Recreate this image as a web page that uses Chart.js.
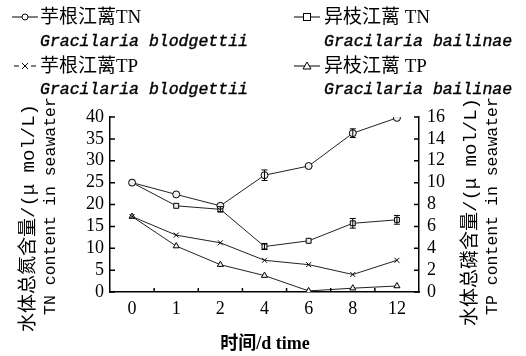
<!DOCTYPE html>
<html>
<head>
<meta charset="utf-8">
<script src="https://cdn.jsdelivr.net/npm/chart.js@4.4.0/dist/chart.umd.min.js"></script>
<style>
body { margin: 0; background: #fff; }
#wrap { position: relative; width: 526px; height: 356px; overflow: hidden; }
#chart { position: absolute; left: 0; top: 0; }
.t { position: absolute; white-space: nowrap; color: #000; line-height: 1; }
.cn { font-family: "Liberation Serif", "Noto Sans CJK SC"; font-size: 19px; }
.it { font-family: "Liberation Mono"; font-style: italic; font-size: 16.5px; -webkit-text-stroke: 0.4px #000; }
.vt { transform: translate(-50%, -50%) rotate(-90deg); }
.mono { font-family: "Liberation Mono", "Noto Sans CJK SC"; font-size: 16px; }
svg.sym { position: absolute; }
</style>
</head>
<body>
<div id="wrap">
<canvas id="chart" width="526" height="356"></canvas>

<!-- legend -->
<svg class="sym" style="left:11px;top:9px" width="28" height="16"><line x1="1" y1="8" x2="27" y2="8" stroke="#000"/><circle cx="14" cy="8" r="3" fill="#fff" stroke="#000"/></svg>
<div class="t cn" style="left:40px;top:7px">芋根江蓠TN</div>
<div class="t it" style="left:40px;top:34px">Gracilaria blodgettii</div>
<svg class="sym" style="left:11px;top:58px" width="28" height="16"><line x1="3" y1="8" x2="8" y2="8" stroke="#000"/><line x1="20" y1="8" x2="25" y2="8" stroke="#000"/><path d="M11 5 L17 11 M17 5 L11 11" stroke="#000"/></svg>
<div class="t cn" style="left:40px;top:56px">芋根江蓠TP</div>
<div class="t it" style="left:40px;top:82px">Gracilaria blodgettii</div>

<svg class="sym" style="left:293px;top:9px" width="28" height="16"><line x1="1" y1="8" x2="27" y2="8" stroke="#000"/><rect x="10.5" y="4.5" width="7" height="7" fill="#fff" stroke="#000"/></svg>
<div class="t cn" style="left:324px;top:7px">异枝江蓠 TN</div>
<div class="t it" style="left:324px;top:34px">Gracilaria bailinae</div>
<svg class="sym" style="left:293px;top:58px" width="28" height="16"><line x1="1" y1="8" x2="27" y2="8" stroke="#000"/><path d="M14 4 L18 11 L10 11 Z" fill="#fff" stroke="#000"/></svg>
<div class="t cn" style="left:324px;top:56px">异枝江蓠 TP</div>
<div class="t it" style="left:324px;top:82px">Gracilaria bailinae</div>

<!-- axis titles -->
<div class="t mono vt" style="left:29px;top:218px;font-size:19px">水体总氮含量/(μ mol/L)</div>
<div class="t mono vt" style="left:51px;top:206px;font-size:16.5px">TN content in seawater</div>
<div class="t mono vt" style="left:471px;top:212px;font-size:19px">水体总磷含量/(μ mol/L)</div>
<div class="t mono vt" style="left:493px;top:206px;font-size:16.5px">TP content in seawater</div>
<div class="t" style="left:265px;top:343px;transform:translate(-50%,-50%);font-family:'Liberation Serif','Noto Sans CJK SC';font-weight:bold;font-size:18px">时间/d time</div>
</div>

<script>
// sampling days
var days = ["0", "1", "2", "4", "6", "8", "12"];

// total nitrogen (left axis, umol/L)
var tnBlodgettii = [25.0, 22.3, 19.7, 26.7, 28.8, 36.3, 39.8];
var tnBailinae = [25.0, 19.7, 18.9, 10.4, 11.7, 15.7, 16.5];
var tnBlodgettiiErr = [0.3, 0.4, 0.5, 1.2, 0.4, 1.0, 0.5];
var tnBailinaeErr = [0.3, 0.4, 0.6, 0.7, 0.5, 1.1, 1.0];

// total phosphorus (right axis, umol/L)
var tpBlodgettii = [6.9, 5.2, 4.5, 2.9, 2.5, 1.6, 2.9];
var tpBailinae = [6.9, 4.2, 2.5, 1.5, 0.1, 0.35, 0.55];
var tpBlodgettiiErr = [0.1, 0.1, 0.1, 0.1, 0.1, 0.1, 0.15];
var tpBailinaeErr = [0.1, 0.1, 0.1, 0.1, 0.05, 0.1, 0.15];

var leftTicks = [0, 5, 10, 15, 20, 25, 30, 35, 40];
var rightTicks = [0, 2, 4, 6, 8, 10, 12, 14, 16];

var tickFont = { family: "Liberation Serif", size: 18 };

// error bars
var errorBars = {
    id: "errorBars",
    afterDatasetsDraw: function (chart) {
        var ctx = chart.ctx;
        ctx.save();
        ctx.strokeStyle = "#000";
        ctx.lineWidth = 1;
        chart.data.datasets.forEach(function (ds, i) {
            if (!ds.err) return;
            var meta = chart.getDatasetMeta(i);
            var sc = chart.scales[ds.yAxisID];
            meta.data.forEach(function (pt, j) {
                var e = ds.err[j];
                var y1 = sc.getPixelForValue(ds.data[j] + e);
                var y2 = sc.getPixelForValue(ds.data[j] - e);
                if (y2 - y1 < 5) return;
                ctx.beginPath();
                ctx.moveTo(pt.x, y1); ctx.lineTo(pt.x, y2);
                ctx.moveTo(pt.x - 3, y1); ctx.lineTo(pt.x + 3, y1);
                ctx.moveTo(pt.x - 3, y2); ctx.lineTo(pt.x + 3, y2);
                ctx.stroke();
            });
        });
        ctx.restore();
    }
};

// tick marks pointing into the plot
var innerTicks = {
    id: "innerTicks",
    afterDraw: function (chart) {
        var ctx = chart.ctx;
        var a = chart.chartArea;
        ctx.save();
        ctx.strokeStyle = "#000";
        ctx.lineWidth = 1.5;
        ctx.beginPath();
        var yl = chart.scales.y;
        yl.ticks.forEach(function (t, i) {
            var y = yl.getPixelForTick(i);
            ctx.moveTo(a.left, y); ctx.lineTo(a.left + 5, y);
        });
        var yr = chart.scales.y1;
        yr.ticks.forEach(function (t, i) {
            var y = yr.getPixelForTick(i);
            ctx.moveTo(a.right, y); ctx.lineTo(a.right - 5, y);
        });
        var n = days.length;
        for (var k = 1; k < n; k++) {
            var x = a.left + k * (a.right - a.left) / n;
            ctx.moveTo(x, a.bottom); ctx.lineTo(x, a.bottom - 4);
        }
        ctx.stroke();
        ctx.restore();
    }
};

function lineSet(label, data, err, axis, shape) {
    return {
        label: label,
        data: data,
        err: err,
        yAxisID: axis,
        borderColor: "#222",
        borderWidth: 1,
        backgroundColor: "#eee",
        pointStyle: shape,
        pointRadius: 3.5,
        pointBorderWidth: 1,
        pointBorderColor: "#000",
        tension: 0
    };
}

new Chart(document.getElementById("chart"), {
    type: "line",
    data: {
        labels: days,
        datasets: [
            lineSet("芋根江蓠TN", tnBlodgettii, tnBlodgettiiErr, "y", "circle"),
            lineSet("异枝江蓠 TN", tnBailinae, tnBailinaeErr, "y", "rect"),
            lineSet("芋根江蓠TP", tpBlodgettii, tpBlodgettiiErr, "y1", "crossRot"),
            lineSet("异枝江蓠 TP", tpBailinae, tpBailinaeErr, "y1", "triangle")
        ]
    },
    options: {
        responsive: false,
        animation: false,
        layout: { padding: { top: 117, left: 0, right: 0, bottom: 0 } },
        plugins: { legend: { display: false }, tooltip: { enabled: false } },
        scales: {
            x: {
                offset: true,
                grid: { display: true, drawOnChartArea: false, drawTicks: false },
                border: { color: "#000", width: 1.5 },
                ticks: { font: tickFont, color: "#000", padding: 6, maxRotation: 0 },
                afterFit: function (s) { s.height = 64; }
            },
            y: {
                position: "left",
                min: 0, max: 40,
                afterBuildTicks: function (s) { s.ticks = leftTicks.map(function (v) { return { value: v }; }); },
                grid: { display: true, drawOnChartArea: false, drawTicks: false },
                border: { color: "#000", width: 1.5 },
                ticks: { font: tickFont, color: "#000", padding: 6, autoSkip: false },
                afterFit: function (s) { s.width = 110; }
            },
            y1: {
                position: "right",
                min: 0, max: 16,
                afterBuildTicks: function (s) { s.ticks = rightTicks.map(function (v) { return { value: v }; }); },
                grid: { display: true, drawOnChartArea: false, drawTicks: false },
                border: { color: "#000", width: 1.5 },
                ticks: { font: tickFont, color: "#000", padding: 8, autoSkip: false },
                afterFit: function (s) { s.width = 107; }
            }
        }
    },
    plugins: [errorBars, innerTicks]
});
</script>
</body>
</html>
